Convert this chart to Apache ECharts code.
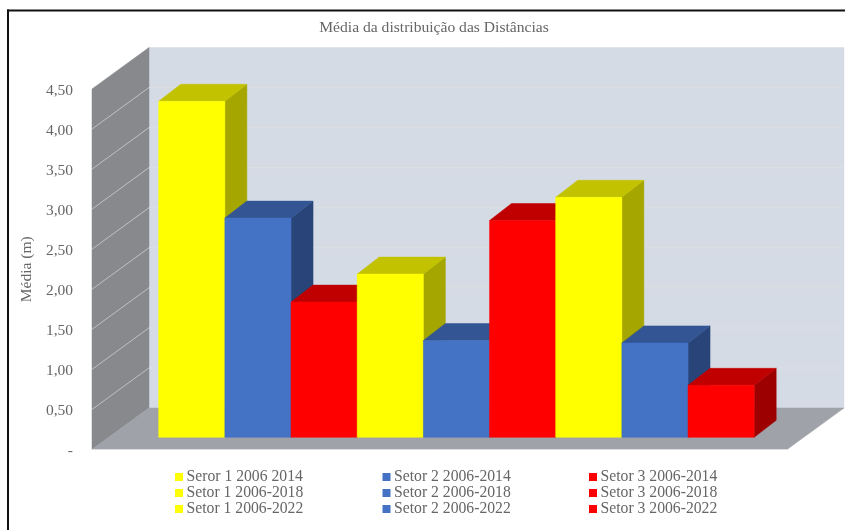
<!DOCTYPE html>
<html>
<head>
<meta charset="utf-8">
<style>html,body{margin:0;padding:0;background:#fff}#c{width:845px;height:530px}</style>
<script src="https://cdn.jsdelivr.net/npm/echarts@6/dist/echarts.min.js"></script>
</head>
<body>
<div id="c"></div>
<script>
const titleText = 'Média da distribuição das Distâncias';
const yAxisName = 'Média (m)';
const yTicks = [0, 0.5, 1, 1.5, 2, 2.5, 3, 3.5, 4, 4.5];
const yTickLabels = ['-', '0,50', '1,00', '1,50', '2,00', '2,50', '3,00', '3,50', '4,00', '4,50'];

const setor1Names = ['Seror 1 2006 2014', 'Setor 1 2006-2018', 'Setor 1 2006-2022'];
const setor2Names = ['Setor 2 2006-2014', 'Setor 2 2006-2018', 'Setor 2 2006-2022'];
const setor3Names = ['Setor 3 2006-2014', 'Setor 3 2006-2018', 'Setor 3 2006-2022'];
const setor1Values = [4.2, 2.04, 3.0];
const setor2Values = [2.74, 1.21, 1.18];
const setor3Values = [1.69, 2.71, 0.65];

const faces = [
  { front: '#FFFF00', top: '#C2C200', side: '#A6A600' },
  { front: '#4472C4', top: '#335594', side: '#294478' },
  { front: '#FF0000', top: '#C00000', side: '#9C0000' }
];
const textColor = '#666666';
const fontFamily = '"Liberation Serif", serif';

// projection of the chart's depth axis
const wallDepth = [57, -41.5];
const barDepth = [22, -17];

const barNames = [];
const barValues = [];
const barFaces = [];
for (let p = 0; p < 3; p++) {
  [[setor1Names, setor1Values], [setor2Names, setor2Values], [setor3Names, setor3Values]].forEach((s, k) => {
    barNames.push(s[0][p]);
    barValues.push(s[1][p]);
    barFaces.push(faces[k]);
  });
}

function poly(points, fill) {
  return { type: 'polygon', shape: { points: points }, style: { fill: fill, stroke: fill, lineWidth: 0.5 } };
}

function renderWalls(params, api) {
  const shift = (p) => [p[0] + wallDepth[0], p[1] + wallDepth[1]];
  const fl = api.coord([0, 0]), fr = api.coord([1, 0]);
  const tl = api.coord([0, yTicks[yTicks.length - 1]]);
  const children = [
    poly([shift(tl), shift([fr[0], tl[1]]), shift(fr), shift(fl)], '#D5DBE4'),
    poly([tl, shift(tl), shift(fl), fl], '#87898D'),
    poly([fl, fr, shift(fr), shift(fl)], '#A0A2A9')
  ];
  yTicks.forEach((t) => {
    if (t === 0 || t === yTicks[yTicks.length - 1]) return;
    const a = api.coord([0, t]), b = api.coord([1, t]);
    children.push({ type: 'line', shape: { x1: a[0], y1: a[1], x2: shift(a)[0], y2: shift(a)[1] },
                    style: { stroke: '#BFC1C5', lineWidth: 1 } });
    children.push({ type: 'line', shape: { x1: shift(a)[0], y1: shift(a)[1], x2: shift(b)[0], y2: shift(b)[1] },
                    style: { stroke: '#DCDEE2', lineWidth: 1 } });
  });
  children.push({ type: 'line', shape: { x1: fl[0], y1: fl[1], x2: fr[0], y2: fr[1] }, style: { stroke: '#DCDDE0', lineWidth: 1 } });
  return { type: 'group', children: children };
}

function renderBar(params, api) {
  const idx = api.value(0);
  const base = api.coord([idx, 0]);
  const top = api.coord([idx, api.value(1)]);
  const w = api.size([1, 0])[0];
  const f = barFaces[idx];
  const x0 = base[0] - w / 2, x1 = base[0] + w / 2;
  const dx = barDepth[0], dy = barDepth[1];
  return { type: 'group', children: [
    poly([[x1, top[1]], [x1 + dx, top[1] + dy], [x1 + dx, base[1] + dy], [x1, base[1]]], f.side),
    poly([[x0, top[1]], [x0 + dx, top[1] + dy], [x1 + dx, top[1] + dy], [x1, top[1]]], f.top),
    poly([[x0, top[1]], [x1, top[1]], [x1, base[1]], [x0, base[1]]], f.front)
  ] };
}

const legendBase = {
  orient: 'vertical', icon: 'rect', itemWidth: 8, itemHeight: 8, itemGap: 0,
  selectedMode: false, padding: 0,
  textStyle: { color: textColor, fontFamily: fontFamily, fontSize: 15.7, height: 15.7, lineHeight: 15.7, padding: [0, 0, 0, -1.5] }
};

const chart = echarts.init(document.getElementById('c'), null, { renderer: 'canvas' });
chart.setOption({
  animation: false,
  backgroundColor: '#ffffff',
  title: {
    text: titleText, left: 434, top: 20, textAlign: 'center', padding: 0,
    textStyle: { color: textColor, fontFamily: fontFamily, fontSize: 15.6, fontWeight: 'normal' }
  },
  graphic: [
    { type: 'rect', silent: true, shape: { x: 7, y: 9.5, width: 838, height: 2 }, style: { fill: '#111' } },
    { type: 'rect', silent: true, shape: { x: 7, y: 9.5, width: 2, height: 521 }, style: { fill: '#111' } }
  ],
  grid: [
    { left: 92, width: 695, top: 89, height: 360.5 },
    { left: 158.7, width: 595.5, top: 77.3, height: 360 }
  ],
  xAxis: [
    { gridIndex: 0, type: 'value', min: 0, max: 1, show: false },
    { gridIndex: 1, type: 'category', data: barNames, show: false }
  ],
  yAxis: [
    { gridIndex: 0, type: 'value', min: 0, max: 4.5, interval: 0.5,
      name: yAxisName, nameLocation: 'middle', nameGap: 56, nameRotate: 90,
      nameTextStyle: { color: textColor, fontFamily: fontFamily, fontSize: 15.5 },
      axisLine: { show: false }, axisTick: { show: false }, splitLine: { show: false },
      axisLabel: { margin: 19, color: textColor, fontFamily: fontFamily, fontSize: 15.5,
        verticalAlign: 'top', lineHeight: 3,
        formatter: (v) => yTickLabels[yTicks.indexOf(v)] } },
    { gridIndex: 1, type: 'value', min: 0, max: 4.5, interval: 0.5, show: false }
  ],
  legend: [
    Object.assign({ left: 175, top: 469, data: setor1Names }, legendBase),
    Object.assign({ left: 382.5, top: 469, data: setor2Names }, legendBase),
    Object.assign({ left: 589, top: 469, data: setor3Names }, legendBase)
  ],
  series: [
    { type: 'custom', silent: true, xAxisIndex: 0, yAxisIndex: 0, renderItem: renderWalls,
      data: [[0, 0]], z: 1, clip: false }
  ].concat(barNames.map((name, i) => ({
    type: 'custom', name: name, silent: true, xAxisIndex: 1, yAxisIndex: 1, renderItem: renderBar,
    itemStyle: { color: barFaces[i].front }, z: 2, clip: false,
    data: [[i, barValues[i]]], encode: { x: 0, y: 1 }
  })))
});
</script>
</body>
</html>
